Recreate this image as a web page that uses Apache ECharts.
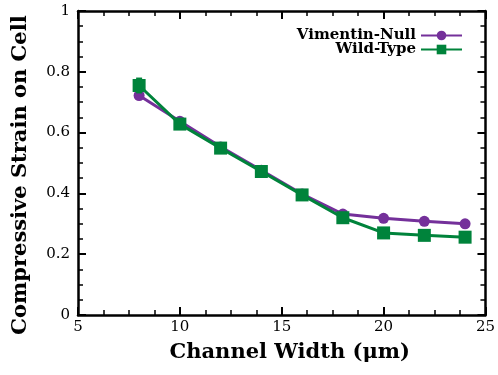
<!DOCTYPE html>
<html>
<head>
<meta charset="utf-8">
<script src="https://cdn.jsdelivr.net/npm/echarts@6/dist/echarts.min.js"></script>
<style>
  html, body { margin: 0; padding: 0; background: #fff; }
  #chart { width: 498px; height: 375px; }
</style>
</head>
<body>
<div id="chart"></div>
<script>
// Channel widths (µm) and measured compressive strain
const channelWidth = [8, 10, 12, 14, 16, 18, 20, 22, 24];
const vimentinNull = [0.722, 0.637, 0.553, 0.476, 0.398, 0.332, 0.318, 0.308, 0.300];
const wildType     = [0.755, 0.628, 0.549, 0.472, 0.395, 0.320, 0.270, 0.262, 0.256];
// Standard error for wild-type (only the first is larger than the marker)
const wildTypeErr  = [0.022, 0.006, 0.005, 0.005, 0.005, 0.005, 0.005, 0.005, 0.005];

const xTicks = [5, 10, 15, 20, 25];
const yTicks = [0, 0.2, 0.4, 0.6, 0.8, 1];

const purple = '#74309a';
const green = '#00833b';
const serif = 'DejaVu Serif';

const chart = echarts.init(document.getElementById('chart'), null, { renderer: 'canvas' });

const frameAxis = {
  axisLine: { show: true, onZero: false, lineStyle: { color: '#000', width: 2.5 } },
  axisTick: { show: true, inside: true, length: 8, lineStyle: { color: '#000', width: 2 } },
  minorTick: { show: true, splitNumber: 4, length: 5, lineStyle: { color: '#000', width: 1.5 } },
  splitLine: { show: false }
};

function errorBars(values, errs, color) {
  return {
    type: 'custom',
    silent: true,
    z: 3,
    data: channelWidth.map((x, i) => [x, values[i] - errs[i], values[i] + errs[i]]),
    renderItem: function (params, api) {
      const lo = api.coord([api.value(0), api.value(1)]);
      const hi = api.coord([api.value(0), api.value(2)]);
      const w = 3;
      const style = { stroke: color, lineWidth: 2.5 };
      return {
        type: 'group',
        children: [
          { type: 'line', shape: { x1: lo[0], y1: lo[1], x2: hi[0], y2: hi[1] }, style },
          { type: 'line', shape: { x1: hi[0] - w, y1: hi[1], x2: hi[0] + w, y2: hi[1] }, style },
          { type: 'line', shape: { x1: lo[0] - w, y1: lo[1], x2: lo[0] + w, y2: lo[1] }, style }
        ]
      };
    }
  };
}

chart.setOption({
  animation: false,
  backgroundColor: '#fff',
  grid: { left: 78, right: 8, top: 11, bottom: 60 },
  legend: {
    right: 30,
    top: 23,
    orient: 'vertical',
    align: 'right',
    itemWidth: 41,
    itemHeight: 12,
    itemGap: -1,
    textStyle: { fontFamily: serif, fontWeight: 'bold', fontSize: 15, color: '#000' },
    data: ['Vimentin-Null', 'Wild-Type']
  },
  xAxis: [
    Object.assign({
      type: 'value', min: 5, max: 25, interval: 5, position: 'bottom',
      name: 'Channel Width (\u03BCm)', nameLocation: 'middle', nameGap: 27,
      nameTextStyle: { fontFamily: serif, fontWeight: 'bold', fontSize: 21, color: '#000',
        padding: [0, 0, 0, 16] },
      axisLabel: { fontFamily: serif, fontSize: 15, color: '#000', margin: 5,
        formatter: v => xTicks.includes(v) ? String(v) : '' }
    }, frameAxis),
    Object.assign({
      type: 'value', min: 5, max: 25, interval: 5, position: 'top',
      axisLabel: { show: false }
    }, frameAxis)
  ],
  yAxis: [
    Object.assign({
      type: 'value', min: 0, max: 1, interval: 0.2, position: 'left',
      name: 'Compressive Strain on Cell', nameLocation: 'middle', nameGap: 47,
      nameTextStyle: { fontFamily: serif, fontWeight: 'bold', fontSize: 21, color: '#000',
        padding: [0, 24, 0, 0] },
      axisLabel: { fontFamily: serif, fontSize: 15, color: '#000', margin: 8,
        formatter: v => {
          const t = yTicks.find(k => Math.abs(k - v) < 1e-9);
          return t === undefined ? '' : String(t);
        } }
    }, frameAxis),
    Object.assign({
      type: 'value', min: 0, max: 1, interval: 0.2, position: 'right',
      axisLabel: { show: false }
    }, frameAxis)
  ],
  series: [
    {
      name: 'Vimentin-Null',
      type: 'line',
      data: channelWidth.map((x, i) => [x, vimentinNull[i]]),
      symbol: 'circle',
      symbolSize: 11,
      color: purple,
      lineStyle: { width: 3, color: purple },
      itemStyle: { color: purple },
      z: 2
    },
    {
      name: 'Wild-Type',
      type: 'line',
      data: channelWidth.map((x, i) => [x, wildType[i]]),
      symbol: 'rect',
      symbolSize: 13,
      color: green,
      lineStyle: { width: 3, color: green },
      itemStyle: { color: green },
      z: 4
    },
    errorBars(wildType, wildTypeErr, green)
  ]
});
</script>
</body>
</html>
